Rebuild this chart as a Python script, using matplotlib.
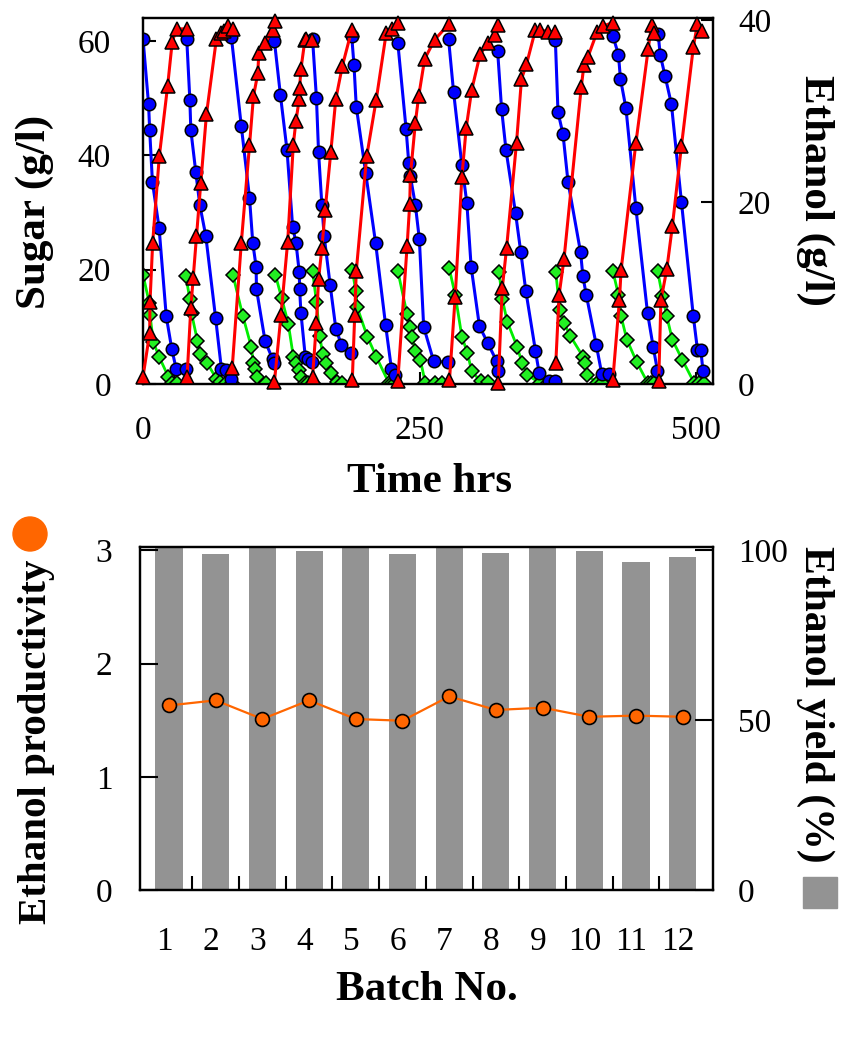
#!/usr/bin/env python3
"""Repeated-batch fermentation: sugar / ethanol time course and per-batch summary."""
import matplotlib
matplotlib.use("Agg")
import matplotlib.pyplot as plt
from matplotlib.patches import Ellipse, Rectangle

# --- top panel: one list per batch (time in hrs) ---------------------------
glc_t = [
    [0, 5, 6, 8.5, 14.5, 21, 26, 30, 39],
    [39.5, 42.3, 43.2, 47.7, 51.3, 56.7, 65.6, 70.8, 75, 79.8],
    [79.8, 88.8, 96.2, 99.2, 102.2, 102.5, 110.3, 117.2, 118.1],
    [118.7, 124.1, 130.1, 135.2, 138.2, 141.2, 141.5, 142.7, 146.6, 148.7, 152.6],
    [153.2, 156.7, 158.6, 161.6, 163.7, 169.1, 174.2, 179.2, 187.7],
    [188.6, 190.6, 192.7, 201.2, 210.2, 219.2, 224.5, 228.1],
    [230.2, 237.7, 240.1, 241.6, 246.1, 249.7, 253.6, 262.6, 275.2],
    [276.1, 280.6, 288.1, 292.6, 296.5, 304, 311.4, 319.5, 320.4],
    [320.4, 324, 328, 336.6, 341.4, 345.9, 354.6, 357.9, 367, 372],
    [372.6, 375, 379.5, 384, 395.4, 397.5, 400.5, 409.5, 414.6, 421.5],
    [424.5, 429.6, 431.4, 436.4, 445.4, 455.9, 461, 464.9],
    [465.5, 467.3, 471.8, 477.5, 486.5, 497.3, 501, 504, 506],
]
glc = [
    [60.3, 48.9, 44.4, 35.3, 27.3, 11.8, 6.1, 2.6, 2.6],
    [60.3, 49.7, 44.4, 37.0, 31.3, 25.9, 11.5, 2.7, 2.4, 0.9],
    [60.7, 45.1, 32.6, 24.6, 20.5, 16.6, 7.5, 4.3, 3.6],
    [60.0, 50.6, 40.9, 27.5, 24.7, 19.5, 16.6, 12.4, 4.8, 4.4, 3.8],
    [60.3, 50.0, 40.6, 31.3, 25.8, 17.3, 9.7, 6.9, 5.5],
    [60.8, 55.8, 48.5, 36.9, 24.6, 10.3, 2.6, 1.6],
    [59.7, 44.6, 38.7, 36.3, 31.3, 25.3, 10.0, 4.0, 3.8],
    [60.3, 51.1, 38.3, 31.7, 20.5, 10.1, 7.2, 4.0, 2.3],
    [58.3, 48.1, 40.9, 29.9, 23.0, 16.3, 5.8, 2.0, 0.6, 0.5],
    [60.1, 47.5, 43.7, 35.4, 23.0, 18.8, 15.6, 6.9, 1.7, 1.7],
    [60.9, 57.6, 53.4, 48.2, 30.7, 12.4, 6.5, 2.3],
    [61.2, 57.6, 53.8, 48.9, 31.9, 11.8, 6.0, 6.0, 2.3],
]

etoh_t = [
    [0, 6, 6.3, 8.7, 14.7, 22.2, 26.4, 30.3, 39.3],
    [39.8, 43.2, 45.3, 48.3, 52.2, 57.3, 66.3, 70.1, 73.1, 76.7, 81.2],
    [80.6, 88.8, 96.2, 99.8, 103.7, 104.6, 110.6, 117.2, 119.6],
    [118.7, 124.7, 130.7, 135.8, 138.2, 141.2, 141.5, 142.7, 146.3, 147, 153],
    [153.2, 156.7, 158.6, 161.6, 164.6, 169.7, 174.2, 180.1, 188.6],
    [189.1, 191.3, 192.7, 202.1, 210.7, 219.7, 225.1, 230.2],
    [230.2, 238.6, 241, 241.6, 246.1, 249.1, 254.5, 263.5, 276.1],
    [276.9, 282.1, 288.1, 292, 297, 304.6, 312, 318.1, 320.4],
    [321, 324.6, 328.5, 337.5, 342, 346.5, 354.6, 358.5, 366, 372],
    [373, 376, 380.4, 396, 398.4, 402, 410.4, 415.5, 424.5],
    [424.5, 430.5, 432, 445.4, 456.5, 459.5, 461.9],
    [466, 468, 473.3, 478.4, 486.5, 497.3, 500.9, 505.4],
]
etoh = [
    [0.8, 5.6, 9.0, 15.5, 25.0, 32.7, 37.6, 39.0, 39.0],
    [0.8, 8.4, 11.6, 16.2, 22.1, 29.6, 37.9, 38.5, 38.8, 39.3, 39.0],
    [1.8, 15.5, 26.2, 31.6, 34.1, 36.3, 37.5, 38.9, 39.9],
    [0.2, 7.6, 15.6, 26.3, 28.9, 31.3, 32.5, 34.6, 37.8, 37.9, 37.8],
    [0.8, 6.7, 11.5, 14.9, 19.1, 25.5, 31.3, 34.9, 38.9],
    [0.4, 7.6, 12.4, 25.0, 31.2, 38.5, 39.0, 39.6],
    [0.3, 15.1, 19.8, 22.9, 28.7, 31.6, 35.7, 37.8, 39.5],
    [0.4, 9.6, 22.7, 28.1, 32.3, 36.2, 37.5, 38.3, 39.4],
    [0.1, 10.5, 14.9, 26.5, 33.5, 35.1, 38.9, 38.9, 38.7, 38.7],
    [2.3, 9.8, 13.7, 32.6, 35.0, 35.9, 38.7, 39.3, 39.7],
    [0.4, 9.2, 12.5, 26.5, 36.8, 39.4, 38.5],
    [0.3, 9.2, 12.6, 17.4, 26.1, 37.0, 39.5, 38.8],
]

xyl_t = [
    [0, 5.7, 6.3, 9.3, 14.7, 22.8, 26.4, 30.3],
    [38.7, 42.3, 43.8, 49.2, 51.9, 58.2, 66.3, 70, 75, 80],
    [81.2, 90.2, 97.8, 99.8, 101.5, 103, 111.2],
    [119.6, 125.3, 131.3, 135.8, 138.2, 141.2, 142.7, 146.3, 148.7, 153.2],
    [153.2, 156.7, 159.8, 162.2, 165.2, 170.2, 175, 180],
    [189.1, 192.2, 193.6, 202.6, 210.7, 222.1, 225, 228],
    [230.2, 238.6, 241, 243.1, 246.1, 250.6, 255.1, 264.1, 270],
    [276.7, 282.1, 288.1, 293.2, 297, 305.1, 312],
    [321.7, 324.6, 329.1, 338.1, 342.6, 347.1, 358.5, 366],
    [373, 376.5, 380.4, 386.1, 397.5, 399, 401.4, 410, 415],
    [424.5, 429.6, 432, 437.3, 446, 456, 459, 462],
    [465, 469.4, 473.3, 478.4, 487.4, 498, 502, 507],
]
xyl = [
    [19.1, 14.1, 12.1, 7.3, 4.7, 1.3, 0.2, 0.2],
    [18.9, 14.8, 12.4, 7.5, 5.2, 3.6, 0.9, 0.3, 0.2, 0.2],
    [19.1, 11.9, 6.5, 3.6, 2.7, 1.2, 0.2],
    [19.1, 15.0, 10.5, 4.8, 3.6, 2.5, 1.2, 0.2, 0.2, 0.2],
    [19.8, 14.3, 8.4, 5.2, 3.6, 2.0, 0.3, 0.2],
    [19.9, 16.3, 13.4, 8.3, 4.8, 0.2, 0.2, 0.2],
    [19.8, 12.2, 9.9, 8.3, 5.7, 4.2, 0.2, 0.2, 0.2],
    [20.2, 15.6, 8.3, 5.4, 2.2, 0.5, 0.3],
    [19.6, 14.9, 10.9, 6.5, 3.6, 1.6, 0.2, 0.2],
    [19.6, 12.9, 10.7, 8.4, 4.8, 3.6, 1.6, 0.2, 0.2],
    [19.8, 15.6, 11.8, 7.7, 3.9, 0.2, 0.2, 0.2],
    [19.8, 15.3, 11.8, 7.7, 4.2, 0.2, 0.2, 0.2],
]

# --- bottom panel: per-batch summary ---------------------------------------
batches = list(range(1, 13))
productivity = [1.63, 1.675, 1.51, 1.675, 1.51, 1.495, 1.71, 1.59, 1.61, 1.53, 1.54, 1.53]
yield_pct = [101, 98.8, 101, 99.8, 101, 98.8, 101, 99.3, 101, 99.8, 96.6, 98.0]

plt.rcParams["font.family"] = ["Liberation Serif", "DejaVu Serif"]
plt.rcParams["axes.linewidth"] = 1.6

TICK = 24
GRAY = "#939393"
ORANGE = "#ff6600"
W, H = 857, 1050


def px(x, y):
    """pixel position (from top-left) -> figure fraction"""
    return x / W, 1 - y / H


fig = plt.figure(figsize=(W / 100, H / 100), dpi=100)

# ---------------------------------------------------------------- top
ax = fig.add_axes([0.1669, 0.6343, 0.665, 0.3486])
axr = ax.twinx()

for t, v in zip(xyl_t, xyl):
    ax.plot(t, v, color="#00ee00", lw=2, marker="D", ms=7,
            mfc="#22ee22", mec="black", mew=1.1, zorder=3)
for t, v in zip(glc_t, glc):
    ax.plot(t, v, color="#0000ff", lw=2.2, marker="o", ms=9,
            mfc="#0000ff", mec="black", mew=1.1, zorder=4)
for t, v in zip(etoh_t, etoh):
    axr.plot(t, v, color="#ff0000", lw=2.2, marker="^", ms=10,
             mfc="#ff0000", mec="black", mew=1.1, zorder=4, clip_on=False)

ax.set_xlim(0, 515)
ax.set_ylim(0, 64)
axr.set_ylim(0, 40.2)
ax.set_xticks([0, 250, 500])
ax.set_yticks([0, 20, 40, 60])
axr.set_yticks([0, 20, 40])
ax.tick_params(direction="in", length=9, width=1.5, labelsize=TICK, pad=23)
ax.tick_params(axis="x", pad=23)
axr.tick_params(direction="in", length=9, width=1.5, labelsize=TICK, pad=18)

# axis titles placed directly in figure pixels
fig.text(*px(430, 492), "Time hrs", fontsize=31, fontweight="bold",
         ha="center", va="baseline")
fig.text(*px(35, 212), "Sugar (g/l)", fontsize=31, fontweight="bold",
         rotation=90, ha="center", va="center")
fig.text(*px(815, 190), "Ethanol (g/l)", fontsize=31, fontweight="bold",
         rotation=270, ha="center", va="center")

# ---------------------------------------------------------------- bottom
bx = fig.add_axes([0.1634, 0.1524, 0.6686, 0.3267])
bxr = bx.twinx()
bxr.bar(batches, yield_pct, width=0.58, color=GRAY, zorder=1)
bx.plot(batches, productivity, color=ORANGE, lw=1.6, marker="o", ms=10,
        mfc=ORANGE, mec="black", mew=1.2, zorder=3)
bx.set_zorder(bxr.get_zorder() + 1)
bx.patch.set_visible(False)

bx.set_xlim(0.38, 12.65)
bx.set_ylim(0, 3.03)
bxr.set_ylim(0, 101)
bx.set_yticks([0, 1, 2, 3])
bxr.set_yticks([0, 50, 100])
bx.set_xticks([k - 0.1 for k in batches])
bx.set_xticklabels([str(k) for k in batches])
bx.set_xticks([k + 0.5 for k in batches[:-1]], minor=True)
bx.tick_params(axis="x", which="major", length=0, labelsize=TICK, pad=26)
bx.tick_params(axis="x", which="minor", direction="in", length=10, width=1.5)
bx.tick_params(axis="y", direction="in", length=13, width=1.5, labelsize=TICK, pad=20)
bxr.tick_params(axis="y", direction="in", length=13, width=1.5, labelsize=TICK, pad=18)

fig.text(*px(427, 1000), "Batch No.", fontsize=31, fontweight="bold",
         ha="center", va="baseline")
fig.text(*px(37, 742), "Ethanol productivity", fontsize=29.5, fontweight="bold",
         rotation=90, ha="center", va="center")
fig.text(*px(815, 704), "Ethanol yield (%)", fontsize=30, fontweight="bold",
         rotation=270, ha="center", va="center")

# legend-like symbols beside the axis titles
fig.add_artist(Ellipse(px(30, 534), 34 / W, 34 / H, color=ORANGE,
                       transform=fig.transFigure))
fig.add_artist(Rectangle(px(803, 908), 34 / W, 31 / H,
                         color=GRAY, transform=fig.transFigure))

fig.savefig("out.png", dpi=100)
